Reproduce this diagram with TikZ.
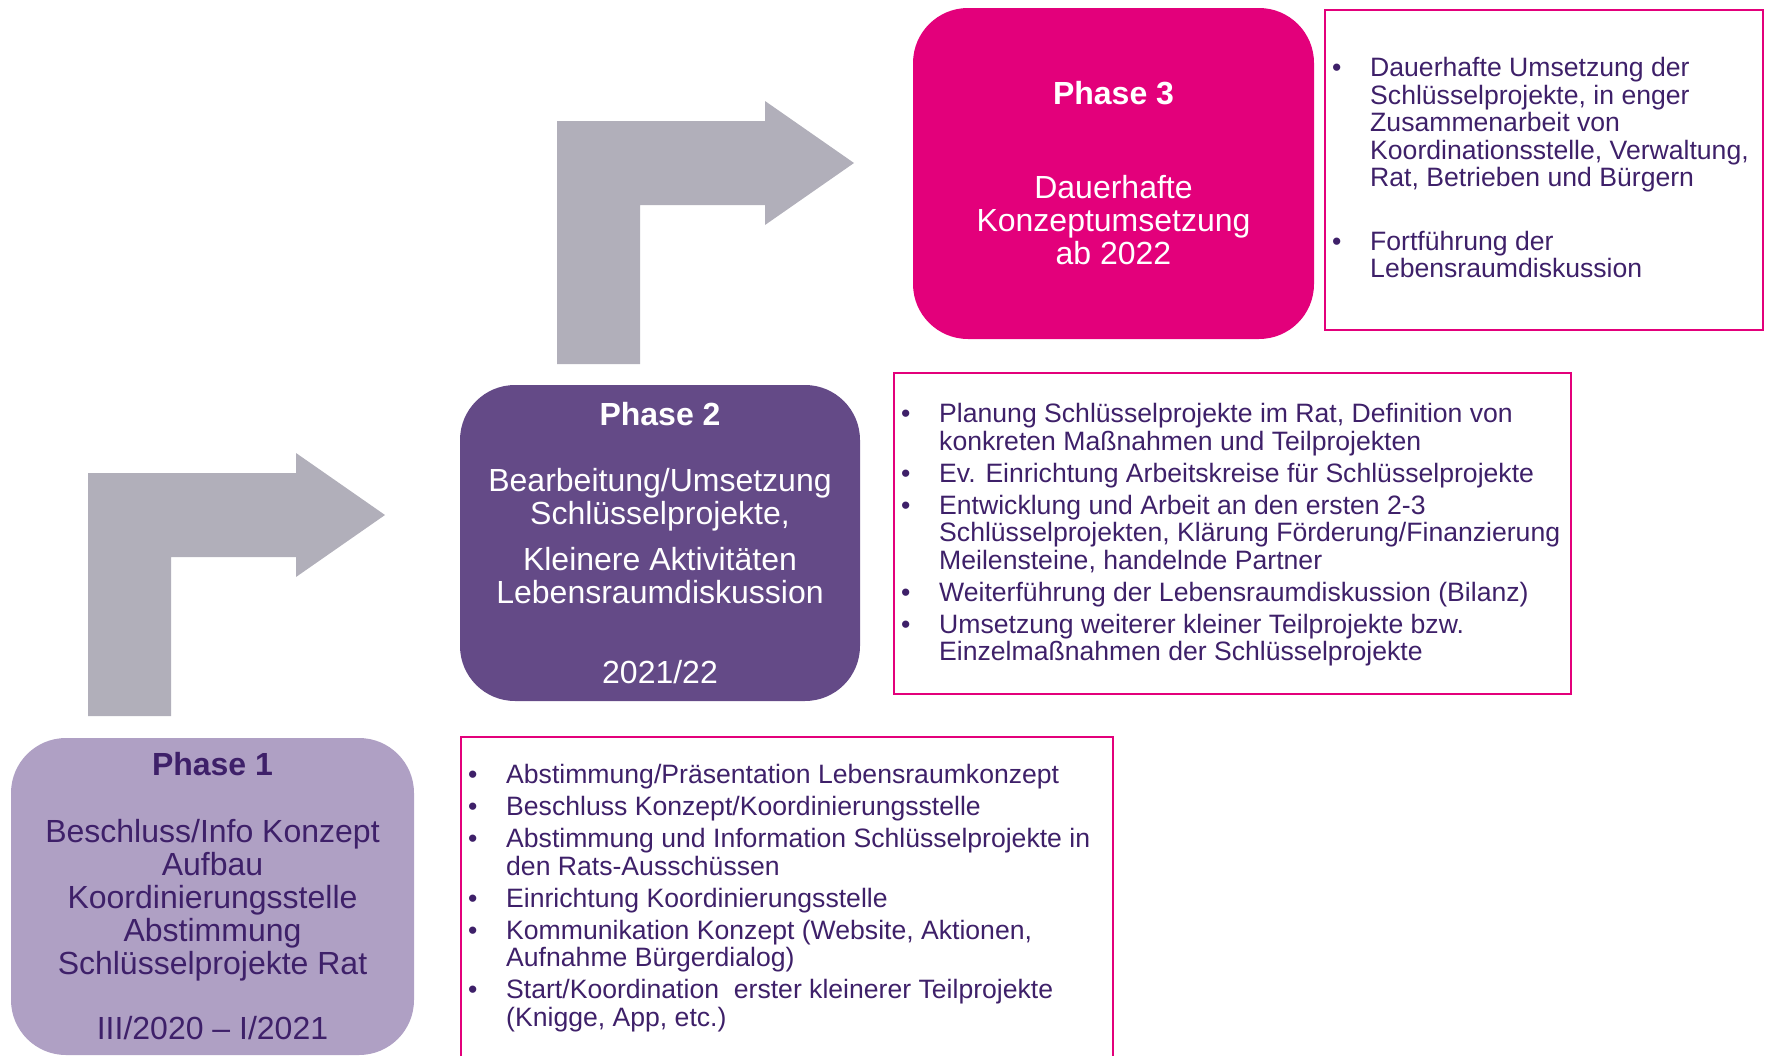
\documentclass[tikz,border=0pt]{standalone}
\usepackage{fontspec}
\setmainfont{Liberation Sans}
\usepackage{tikz}
\usetikzlibrary{positioning}
\definecolor{arrowgray}{RGB}{177, 175, 186}
\definecolor{light}{RGB}{175, 160, 196}
\definecolor{mid}{RGB}{100, 74, 135}
\definecolor{pink}{RGB}{227, 0, 123}
\definecolor{dark}{RGB}{62, 32, 105}

\newcommand{\bul}{\makebox[38pt][l]{\textbullet}}
\newcommand{\ind}{\hspace*{38pt}}

\begin{document}
\begin{tikzpicture}[x=1pt, y=-1pt,
phase/.style={rounded corners=55pt, align=center, inner sep=0pt,
              font=\fontsize{32}{33}\selectfont},
frame/.style={draw=pink, line width=2pt, inner sep=0pt, anchor=north west},
items/.style={align=left, inner sep=0pt, text=dark,
              font=\fontsize{26.6}{27.5}\selectfont},
]

  \clip (0, 0) rectangle (1767, 1055);

  % arrows
  \foreach \dx/\dy in {0/0, 469/-352} {
    \fill[arrowgray, shift={(\dx, \dy)}] (88, 716) -- (88, 473) -- (296, 473)
      -- (296, 453) -- (385, 515) -- (296, 577) -- (296, 557) -- (171, 557)
      -- (171, 716) -- cycle;
  }

  % frames
  \node[frame, minimum width=652pt, minimum height=340pt] (frame1) at (460, 736) {};
  \node[frame, minimum width=677pt, minimum height=321pt] (frame2) at (893, 372) {};
  \node[frame, minimum width=438pt, minimum height=320pt] (frame3) at (1324, 9) {};

  % phases
  \node[phase, fill=light, text=dark, minimum width=403pt, minimum height=317pt]
    (phase1) at (212.5, 896.5) {\textbf{Phase 1}\\[34pt]
      Beschluss/Info Konzept\\ Aufbau\\ Koordinierungsstelle\\ Abstimmung\\
      Schlüsselprojekte Rat\\[32pt] III/2020 – I/2021};
  \node[phase, fill=mid, text=white, minimum width=400pt, minimum height=316pt]
    (phase2) at (660, 543) {\textbf{Phase 2}\\[33pt]
      Bearbeitung/Umsetzung\\ Schlüsselprojekte,\\[13pt]
      Kleinere Aktivitäten\\ Lebensraumdiskussion\\[47pt] 2021/22};
  \node[phase, fill=pink, text=white, minimum width=401pt, minimum height=331pt]
    (phase3) at (1113.5, 173.5) {\textbf{Phase 3}\\[61pt]
      Dauerhafte\\ Konzeptumsetzung\\ ab 2022};

  % lists
  \node[items, below right=28.5pt and 8pt of frame1.north west] (list1) {
    \bul Abstimmung/Präsentation Lebensraumkonzept\\[4.5pt]
    \bul Beschluss Konzept/Koordinierungsstelle\\[4.5pt]
    \bul Abstimmung und Information Schlüsselprojekte in\\
    \ind den Rats-Ausschüssen\\[4.5pt]
    \bul Einrichtung Koordinierungsstelle\\[4.5pt]
    \bul Kommunikation Konzept (Website, Aktionen,\\
    \ind Aufnahme Bürgerdialog)\\[4.5pt]
    \bul Start/Koordination\ \ erster kleinerer Teilprojekte\\
    \ind (Knigge, App, etc.)};
  \node[items, below right=31.5pt and 8pt of frame2.north west] (list2) {
    \bul Planung Schlüsselprojekte im Rat, Definition von\\
    \ind konkreten Maßnahmen und Teilprojekten\\[4.5pt]
    \bul Ev. Einrichtung Arbeitskreise für Schlüsselprojekte\\[4.5pt]
    \bul Entwicklung und Arbeit an den ersten 2-3\\
    \ind Schlüsselprojekten, Klärung Förderung/Finanzierung\\
    \ind Meilensteine, handelnde Partner\\[4.5pt]
    \bul Weiterführung der Lebensraumdiskussion (Bilanz)\\[4.5pt]
    \bul Umsetzung weiterer kleiner Teilprojekte bzw.\\
    \ind Einzelmaßnahmen der Schlüsselprojekte};
  \node[items, below right=48.5pt and 8pt of frame3.north west] (list3) {
    \bul Dauerhafte Umsetzung der\\
    \ind Schlüsselprojekte, in enger\\
    \ind Zusammenarbeit von\\
    \ind Koordinationsstelle, Verwaltung,\\
    \ind Rat, Betrieben und Bürgern\\[36pt]
    \bul Fortführung der\\
    \ind Lebensraumdiskussion};

\end{tikzpicture}
\end{document}
